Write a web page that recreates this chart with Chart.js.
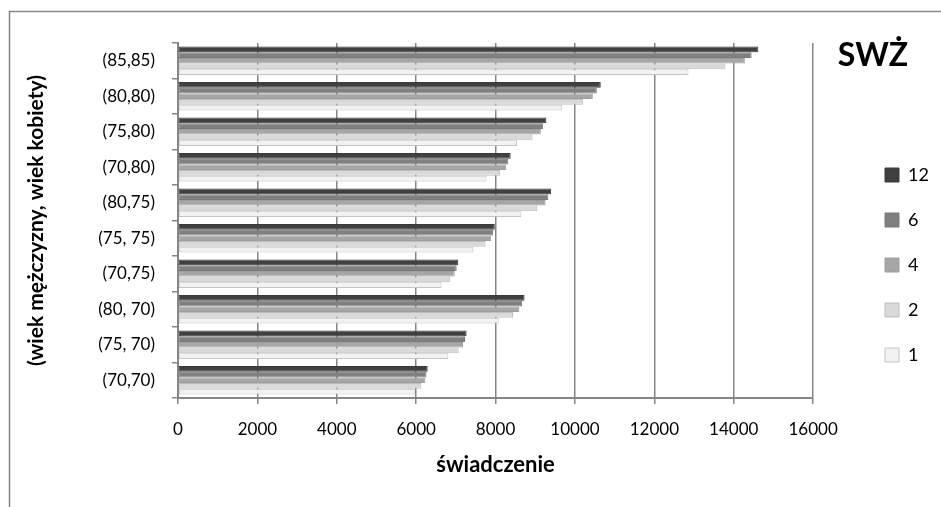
<!DOCTYPE html>
<html>
<head>
<meta charset="utf-8">
<script src="https://cdn.jsdelivr.net/npm/chart.js@4/dist/chart.umd.min.js"></script>
<style>
  html, body { margin: 0; padding: 0; background: #fff; }
  #wrap { width: 941px; height: 507px; position: relative; }
</style>
</head>
<body>
<div id="wrap"><canvas id="c" width="941" height="507"></canvas></div>
<script>
// Age pairs (men, women), listed top to bottom
const categories = ['(85,85)', '(80,80)', '(75,80)', '(70,80)', '(80,75)', '(75, 75)', '(70,75)', '(80, 70)', '(75, 70)', '(70,70)'];

// Benefit amounts per payment-frequency series
const series12 = [14620, 10650, 9280, 8380, 9400, 7980, 7060, 8730, 7270, 6290];
const series6  = [14450, 10550, 9200, 8320, 9330, 7940, 7020, 8670, 7230, 6260];
const series4  = [14280, 10450, 9140, 8270, 9260, 7890, 6970, 8600, 7180, 6230];
const series2  = [13790, 10200, 8930, 8110, 9050, 7750, 6860, 8440, 7070, 6130];
const series1  = [12860,  9680, 8540, 7770, 8650, 7440, 6640, 8080, 6810, 5960];

const seriesLabels = ['12', '6', '4', '2', '1'];
const xTicks = [0, 2000, 4000, 6000, 8000, 10000, 12000, 14000, 16000];

const chartTitle = 'SWŻ';
const xTitle = 'świadczenie';
const yTitle = '(wiek mężczyzny, wiek kobiety)';

const FONT = 'Lato';
const AXIS_GRAY = '#868686';

const fills   = ['#404040', '#808080', '#a6a6a6', '#d9d9d9', '#f2f2f2'];
const borders = ['#3a3a3a', '#7a7a7a', '#9e9e9e', '#bdbdbd', '#c4c4c4'];
const values  = [series12, series6, series4, series2, series1];

const datasets = seriesLabels.map((lab, i) => ({
  label: lab,
  data: values[i],
  backgroundColor: fills[i],
  borderColor: borders[i],
  borderWidth: 1,
  borderSkipped: false,
  categoryPercentage: 0.8,
  barPercentage: 1.0
}));

// Outer frame and the chart heading
const decor = {
  id: 'decor',
  beforeDraw(chart) {
    const ctx = chart.ctx;
    ctx.save();
    ctx.fillStyle = '#fff';
    ctx.fillRect(0, 0, chart.width, chart.height);
    ctx.strokeStyle = AXIS_GRAY;
    ctx.lineWidth = 1.5;
    ctx.beginPath();
    ctx.moveTo(9.5, chart.height);
    ctx.lineTo(9.5, 11.5);
    ctx.lineTo(chart.width, 11.5);
    ctx.stroke();
    ctx.restore();
  },
  afterDraw(chart) {
    const ctx = chart.ctx;
    ctx.save();
    ctx.font = 'bold 32px ' + FONT;
    ctx.fillStyle = '#000';
    ctx.textAlign = 'center';
    ctx.textBaseline = 'alphabetic';
    ctx.fillText(chartTitle, 873, 66);
    ctx.restore();
  }
};

// Move the legend column to the right-hand margin
const legendShift = {
  id: 'legendShift',
  afterLayout(chart) {
    const lg = chart.legend;
    if (!lg) return;
    const pad = lg.options.labels.padding;
    const dx = 885 - (lg.left + pad);
    lg.left += dx;
    lg.right += dx;
  }
};

new Chart(document.getElementById('c'), {
  type: 'bar',
  data: { labels: categories, datasets },
  plugins: [decor, legendShift],
  options: {
    indexAxis: 'y',
    responsive: false,
    animation: false,
    devicePixelRatio: 1,
    layout: { padding: { left: 10, top: 43, right: 47, bottom: 20 } },
    plugins: {
      tooltip: { enabled: false },
      legend: {
        position: 'right',
        align: 'center',
        labels: {
          font: { family: FONT, size: 18 },
          color: '#000',
          boxWidth: 14,
          boxHeight: 14,
          padding: 27
        }
      }
    },
    scales: {
      x: {
        type: 'linear',
        min: 0,
        max: 16000,
        afterBuildTicks(scale) { scale.ticks = xTicks.map(v => ({ value: v })); },
        afterFit(scale) { scale.height = 89; },
        ticks: {
          font: { family: FONT, size: 17 },
          color: '#000',
          padding: 15,
          callback: v => String(v)
        },
        grid: { color: AXIS_GRAY, lineWidth: 1.5, tickLength: 6, drawTicks: true },
        border: { color: AXIS_GRAY, width: 2 },
        title: {
          display: true,
          text: xTitle,
          font: { family: FONT, size: 22, weight: 'bold' },
          color: '#000',
          padding: { top: 0, bottom: 9 }
        }
      },
      y: {
        type: 'category',
        afterFit(scale) { scale.width = 168; },
        ticks: {
          font: { family: FONT, size: 17 },
          color: '#000',
          padding: 17
        },
        grid: { color: AXIS_GRAY, lineWidth: 1.5, tickLength: 6, drawOnChartArea: false, offset: true },
        border: { color: AXIS_GRAY, width: 2 },
        title: {
          display: true,
          text: yTitle,
          font: { family: FONT, size: 21, weight: 'bold' },
          color: '#000',
          padding: { top: 14, bottom: 0 }
        }
      }
    }
  }
});
</script>
</body>
</html>
